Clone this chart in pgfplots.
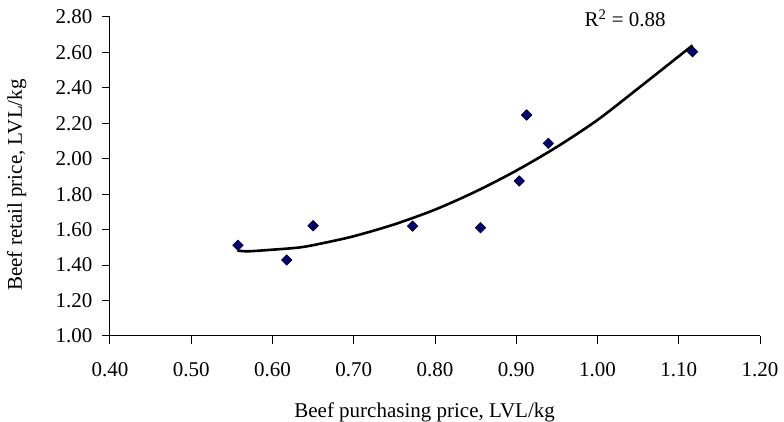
\documentclass[border=0pt]{standalone}
\usepackage{pgfplots}
\pgfplotsset{compat=1.18}
\usepackage{fontspec}
\setmainfont{Liberation Serif}
\definecolor{navy}{RGB}{0,0,128}
\begin{document}
\begin{tikzpicture}
\begin{axis}[
  at={(0pt,0pt)}, anchor=south west,
  scale only axis, width=650pt, height=319pt,
  xmin=0.4, xmax=1.2, ymin=1.0, ymax=2.8,
  xtick={0.4,0.5,...,1.21}, ytick={1.0,1.2,...,2.81},
  axis x line*=bottom, axis y line*=left,
  axis line style={line width=1pt},
  tick align=outside, major tick length=8pt,
  every tick/.style={black, line width=1pt},
  /pgf/number format/assume math mode=true,
  /pgf/number format/.cd, fixed, fixed zerofill, precision=2, /pgfplots/.cd,
  tick label style={font=\fontsize{21}{25}\selectfont},
  xticklabel style={anchor=base, yshift=-33pt},
  yticklabel style={anchor=east, xshift=-6pt},
  label style={font=\fontsize{21}{25}\selectfont},
  xlabel={Beef purchasing price, LVL/kg},
  ylabel={Beef retail price, LVL/kg},
  xlabel style={at={(axis description cs:0.484,-0.2570)}, anchor=base},
  ylabel style={at={(axis description cs:-0.1354,0.473)}, anchor=base},
  clip=false,
]
\addplot[black, line width=2.6pt, smooth] coordinates {
(0.557,1.482) (0.570,1.478) (0.600,1.487) (0.634,1.500) (0.660,1.522)
(0.700,1.563) (0.750,1.630) (0.800,1.713) (0.850,1.815) (0.900,1.933)
(0.950,2.067) (1.000,2.219) (1.050,2.397) (1.117,2.640)
};
\addplot[only marks, mark=square*, mark size=3.7pt,
  mark options={rotate=45, fill=navy, draw=black, line width=0.6pt}] coordinates {
(0.5575,1.512) (0.6175,1.429) (0.650,1.622) (0.7724,1.620) (0.856,1.611)
(0.9037,1.875) (0.9128,2.247) (0.9395,2.087) (1.117,2.604)
};
\node[anchor=base, font=\fontsize{21}{25}\selectfont] at (axis cs:1.034,2.744) {R\textsuperscript{2} = 0.88};
\end{axis}
\pgfresetboundingbox
\path[use as bounding box] (-110pt,-86pt) rectangle (674pt,336pt);
\end{tikzpicture}
\end{document}
